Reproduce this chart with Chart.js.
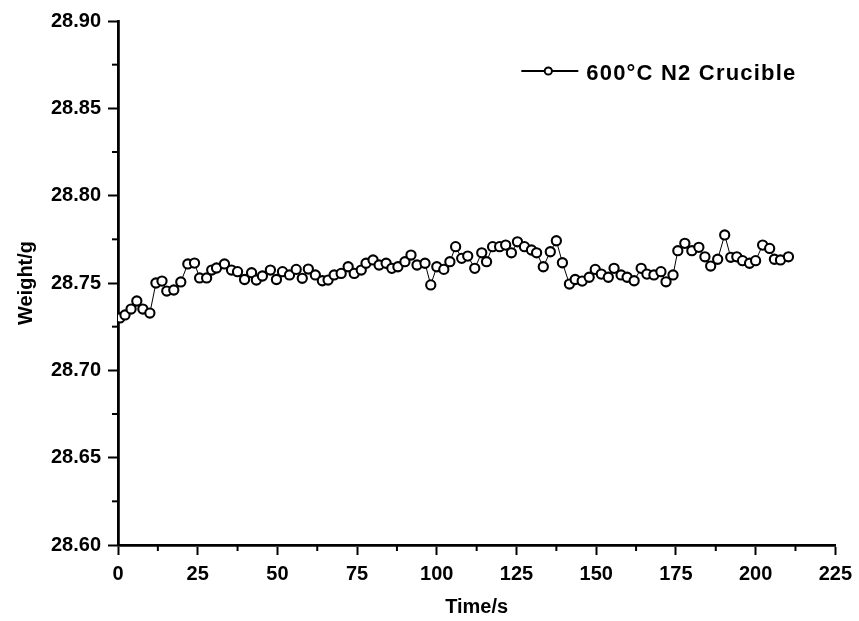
<!DOCTYPE html>
<html><head><meta charset="utf-8">
<script src="https://cdn.jsdelivr.net/npm/chart.js@4/dist/chart.umd.min.js"></script>
<style>html,body{margin:0;padding:0;background:#fff}#wrap{width:859px;height:621px;position:relative}</style>
</head><body><div id="wrap"><canvas id="c" width="859" height="621"></canvas></div>
<script>
const seriesLabel = '600°C N2 Crucible';
const xTitle = 'Time/s';
const yTitle = 'Weight/g';
const times = [0.6, 2.2, 4.1, 5.9, 7.8, 10.0, 11.9, 13.8, 15.3, 17.5, 19.7, 21.9, 24.0, 25.6, 27.8, 29.4, 30.9, 33.4, 35.6, 37.5,
  39.7, 41.9, 43.4, 45.3, 47.8, 49.7, 51.6, 53.8, 55.9, 57.8, 59.7, 61.9, 64.1, 65.9, 67.8, 70.0, 72.2, 74.1,
  76.3, 77.8, 80.0, 81.9, 84.1, 85.9, 87.8, 90.0, 91.9, 93.8, 96.3, 98.1, 100.0, 102.2, 104.1, 105.9, 107.8, 109.7, 111.9,
  114.1, 115.6, 117.5, 119.7, 121.6, 123.4, 125.3, 127.5, 129.7, 131.3, 133.4, 135.6, 137.5, 139.4, 141.6, 143.4, 145.6, 147.8, 149.7,
  151.6, 153.8, 155.6, 157.8, 159.7, 161.9, 164.1, 165.9, 168.1, 170.3, 171.9, 174.1, 175.6, 177.8, 180.0, 182.2, 184.1, 185.9, 188.1,
  190.3, 192.2, 194.1, 195.9, 198.1, 200.0, 202.2, 204.4, 205.9, 207.8, 210.3];
const weights = [28.7300, 28.7317, 28.7351, 28.7397, 28.7351, 28.7328,
  28.7500, 28.7511, 28.7454, 28.7460, 28.7506,
  28.7609, 28.7614, 28.7529, 28.7529, 28.7574,
  28.7586, 28.7609, 28.7574, 28.7565,
  28.7520, 28.7559, 28.7517, 28.7540, 28.7574,
  28.7520, 28.7565, 28.7546, 28.7578, 28.7527,
  28.7580, 28.7546, 28.7513, 28.7517, 28.7546,
  28.7555, 28.7593, 28.7555,
  28.7574, 28.7613, 28.7632, 28.7603, 28.7613,
  28.7584, 28.7593, 28.7622, 28.7660, 28.7603,
  28.7613, 28.7489, 28.7593, 28.7578, 28.7622,
  28.7708, 28.7641, 28.7654, 28.7584,
  28.7673, 28.7622, 28.7708, 28.7708, 28.7717,
  28.7673, 28.7736, 28.7708, 28.7689, 28.7673,
  28.7593, 28.7679, 28.7742, 28.7616, 28.7494,
  28.7520, 28.7511, 28.7533, 28.7578,
  28.7551, 28.7533, 28.7584, 28.7546, 28.7533,
  28.7513, 28.7584, 28.7551, 28.7546, 28.7565,
  28.7507, 28.7546, 28.7685, 28.7727, 28.7685,
  28.7704, 28.7650, 28.7597, 28.7636,
  28.7775, 28.7647, 28.7650, 28.7628, 28.7613,
  28.7628, 28.7717, 28.7698, 28.7636, 28.7632, 28.7650];
const xTicks = [0, 25, 50, 75, 100, 125, 150, 175, 200, 225];
const yTicks = [28.60, 28.65, 28.70, 28.75, 28.80, 28.85, 28.90];
const xMinor = [12.5, 37.5, 62.5, 87.5, 112.5, 137.5, 162.5, 187.5, 212.5];
const yMinor = [28.625, 28.675, 28.725, 28.775, 28.825, 28.875];

const tickFont = {family: "'Liberation Sans', Arial, sans-serif", size: 20, weight: 'bold'};
const titleFont = {family: "'Liberation Sans', Arial, sans-serif", size: 20, weight: 'bold'};

const minorTicks = {
  id: 'minorTicks',
  afterDraw(chart) {
    const {ctx, chartArea: a, scales: {x, y}} = chart;
    ctx.save();
    ctx.strokeStyle = '#000';
    ctx.lineWidth = 2;
    xMinor.forEach(v => {
      const px = x.getPixelForValue(v);
      ctx.beginPath(); ctx.moveTo(px, a.bottom); ctx.lineTo(px, a.bottom + 6); ctx.stroke();
    });
    yMinor.forEach(v => {
      const py = y.getPixelForValue(v);
      ctx.beginPath(); ctx.moveTo(a.left, py); ctx.lineTo(a.left - 6, py); ctx.stroke();
    });
    ctx.restore();
  }
};

const lineLegend = {
  id: 'lineLegend',
  afterDraw(chart) {
    const {ctx, chartArea: a} = chart;
    const ds = chart.data.datasets[0];
    const yy = a.top + 50;
    const x0 = a.right - 314;
    ctx.save();
    ctx.strokeStyle = '#000';
    ctx.lineWidth = 2.2;
    ctx.beginPath(); ctx.moveTo(x0, yy); ctx.lineTo(x0 + 57, yy); ctx.stroke();
    ctx.beginPath(); ctx.arc(x0 + 27, yy, 3.6, 0, Math.PI * 2);
    ctx.fillStyle = '#fff'; ctx.fill(); ctx.lineWidth = 2; ctx.stroke();
    ctx.fillStyle = '#000';
    ctx.font = "bold 22px 'Liberation Sans', Arial, sans-serif";
    try { ctx.letterSpacing = '1.2px'; } catch (e) {}
    ctx.textBaseline = 'middle';
    ctx.textAlign = 'left';
    ctx.fillText(ds.label, x0 + 65, yy + 3);
    ctx.restore();
  }
};

new Chart(document.getElementById('c'), {
  type: 'scatter',
  data: {
    datasets: [{
      label: seriesLabel,
      data: times.map((t, i) => ({x: t, y: weights[i]})),
      showLine: true,
      borderColor: '#000',
      borderWidth: 1,
      pointRadius: 4.6,
      pointBorderWidth: 2.1,
      pointBackgroundColor: '#fff',
      pointBorderColor: '#000'
    }]
  },
  options: {
    responsive: false,
    animation: false,
    devicePixelRatio: 1,
    layout: {padding: {top: 21, right: 20, left: 0, bottom: 0}},
    plugins: {legend: {display: false}, tooltip: {enabled: false}},
    scales: {
      x: {
        type: 'linear', min: 0, max: 225,
        afterBuildTicks: s => { s.ticks = xTicks.map(v => ({value: v})); },
        afterFit: s => { s.height = 76; },
        grid: {drawOnChartArea: false, drawTicks: true, tickLength: 10, tickWidth: 2, tickColor: '#000'},
        border: {display: true, color: '#000', width: 2.8},
        ticks: {color: '#000', font: tickFont, padding: 7, maxRotation: 0},
        title: {display: true, text: xTitle, color: '#000', font: titleFont, padding: {top: 0, bottom: 2}}
      },
      y: {
        type: 'linear', min: 28.6, max: 28.9,
        afterBuildTicks: s => { s.ticks = yTicks.map(v => ({value: v})); },
        afterFit: s => { s.width = 118; },
        grid: {drawOnChartArea: false, drawTicks: true, tickLength: 10, tickWidth: 2, tickColor: '#000'},
        border: {display: true, color: '#000', width: 2.8},
        ticks: {color: '#000', font: tickFont, padding: 7, callback: v => Number(v).toFixed(2)},
        title: {display: true, text: yTitle, color: '#000', font: titleFont, padding: {top: 14, bottom: 0}}
      }
    }
  },
  plugins: [minorTicks, lineLegend]
});
</script>
</body></html>
